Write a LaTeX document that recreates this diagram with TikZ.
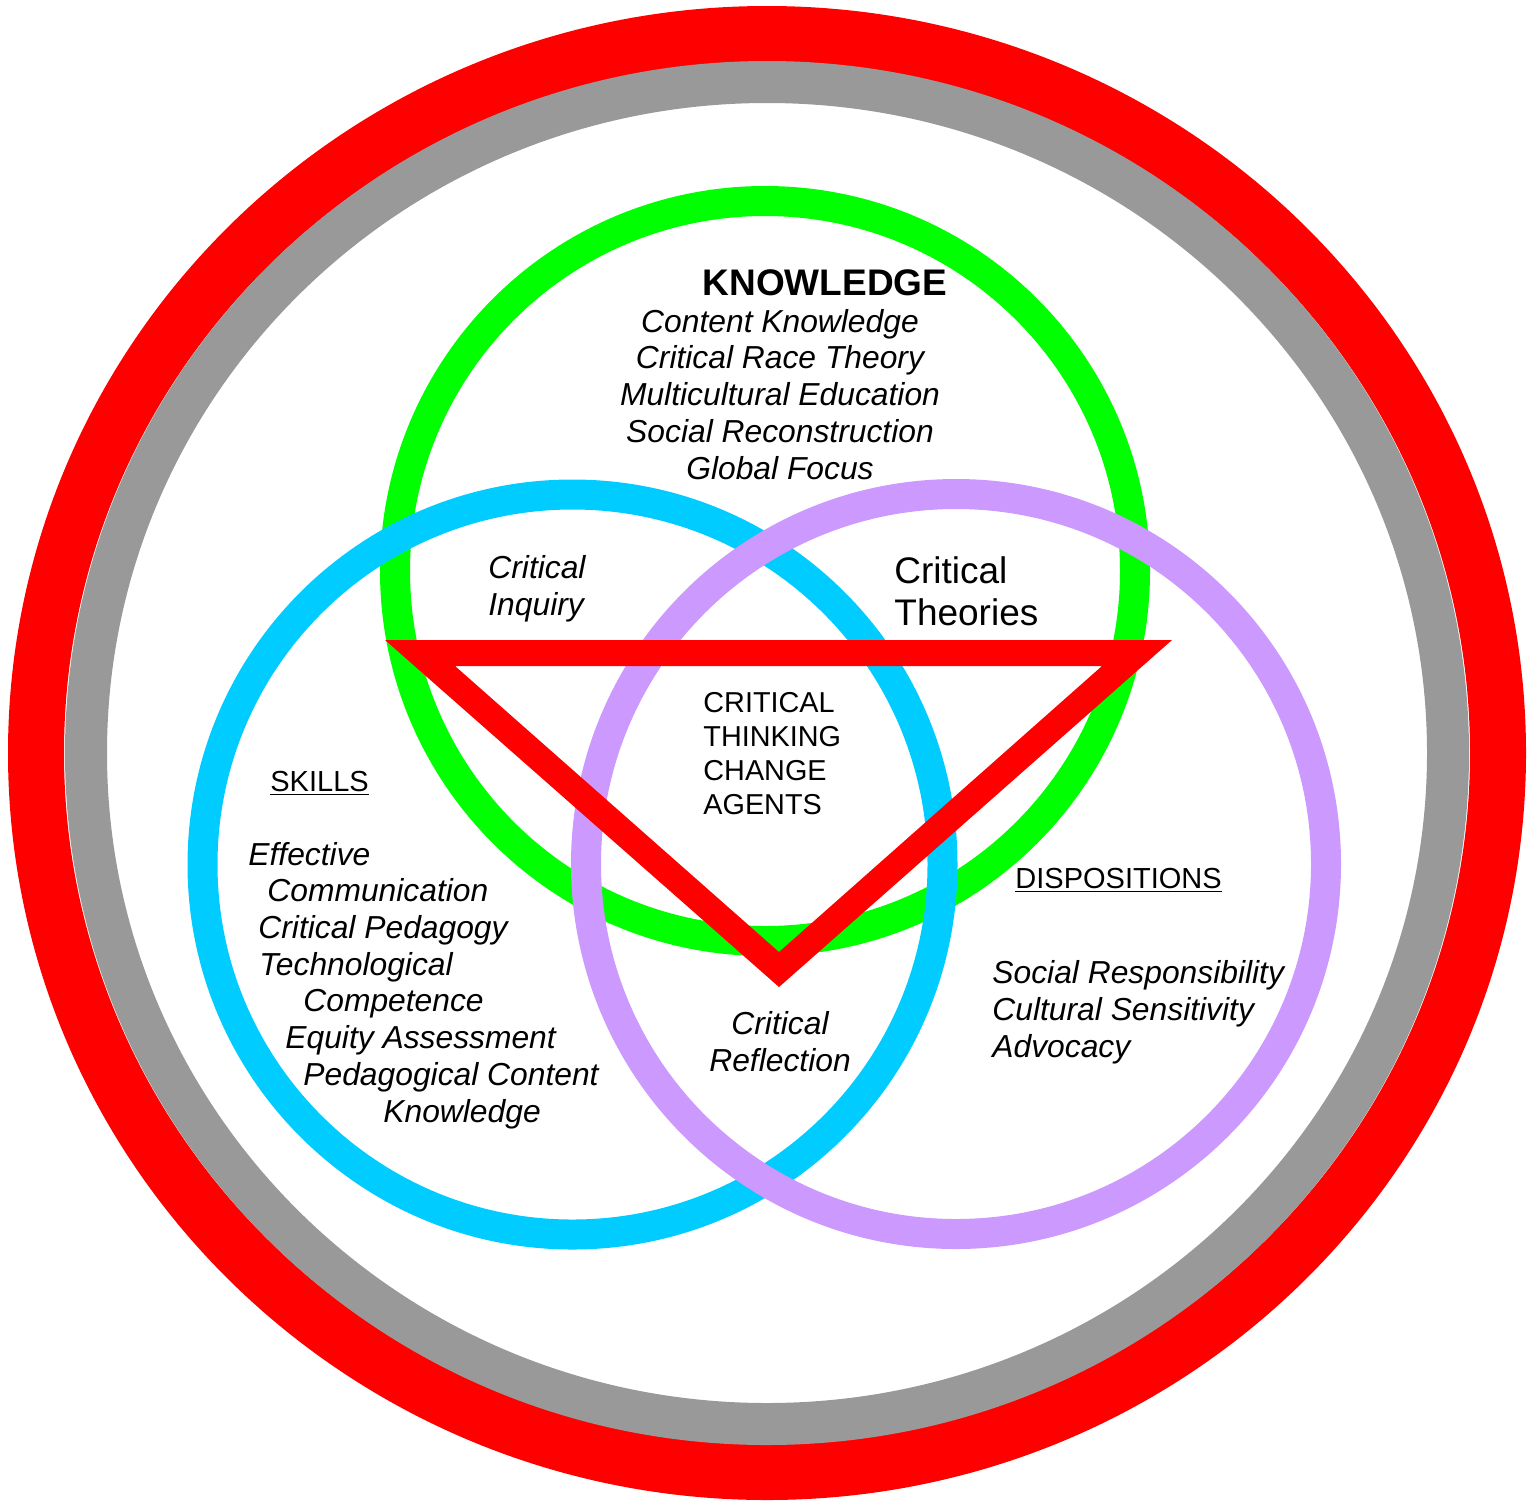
\documentclass[tikz,border=0pt]{standalone}
\usepackage{fontspec}
\setmainfont{Liberation Sans}

\definecolor{ringred}{HTML}{FF0000}
\definecolor{ringgray}{HTML}{999999}
\definecolor{knowgreen}{HTML}{00FF00}
\definecolor{skillblue}{HTML}{00CCFF}
\definecolor{disppurple}{HTML}{CC99FF}

\tikzset{
  item/.style={font=\itshape\fontsize{15.9}{18.35}\selectfont, inner sep=0pt},
  head/.style={font=\fontsize{14.5}{17}\selectfont, inner sep=0pt},
  venn/.style={line width=15pt}
}

\begin{document}
\begin{tikzpicture}[x=0.5pt,y=-0.5pt]
\useasboundingbox (0,0) rectangle (1540,1500);
% outer rings
\draw[ringred, line width=28pt] (767,753) ellipse [x radius=731, y radius=719];
\draw[ringgray, line width=21pt] (767,753) ellipse [x radius=681, y radius=671];

% the three circles
\draw[venn, knowgreen] (765,571) circle [radius=370];
\draw[venn, skillblue] (572.5,864.5) circle [radius=370];
\draw[venn, disppurple] (956,864) circle [radius=370];

% triangle
\fill[ringred, even odd rule] (385,640) -- (1172,640) -- (779,987) -- cycle
  (455,666) -- (1102,666) -- (779,952) -- cycle;

% base = last line of a node
\node[anchor=base, font=\bfseries\fontsize{18.5}{22}\selectfont, inner sep=0pt] (knowhead) at (825,295) {KNOWLEDGE};
\node[item, anchor=base, align=center] (knowlist) at (780,479)
  {Content Knowledge\\Critical Race Theory\\Multicultural Education\\Social Reconstruction\\Global Focus};

\node[item, anchor=base west, align=left] (inquiry) at (488,615) {Critical\\Inquiry};
\node[anchor=base west, align=left, font=\fontsize{18.5}{21}\selectfont, inner sep=0pt] (theories) at (894,625) {Critical\\Theories};
\node[anchor=base west, align=left, font=\fontsize{14.4}{17}\selectfont, inner sep=0pt] (agents) at (703,814)
  {CRITICAL\\THINKING\\CHANGE\\AGENTS};

\node[head, anchor=base west] (skills) at (270,791) {\underline{SKILLS}};
\node[item, anchor=base west, align=left] (skilllist) at (248,1122)
  {Effective\\
   \hspace*{9.5pt}Communication\\
   \hspace*{5pt}Critical Pedagogy\\
   \hspace*{5.5pt}Technological\\
   \hspace*{27.5pt}Competence\\
   \hspace*{18.5pt}Equity Assessment\\
   \hspace*{27.5pt}Pedagogical Content\\
   \hspace*{67.5pt}Knowledge};

\node[head, anchor=base west] (disp) at (1015,888) {\underline{DISPOSITIONS}};
\node[item, anchor=base west, align=left] (displist) at (992,1057)
  {Social Responsibility\\Cultural Sensitivity\\Advocacy};

\node[item, anchor=base, align=center] (reflection) at (780,1071) {Critical\\Reflection};
\end{tikzpicture}
\end{document}
